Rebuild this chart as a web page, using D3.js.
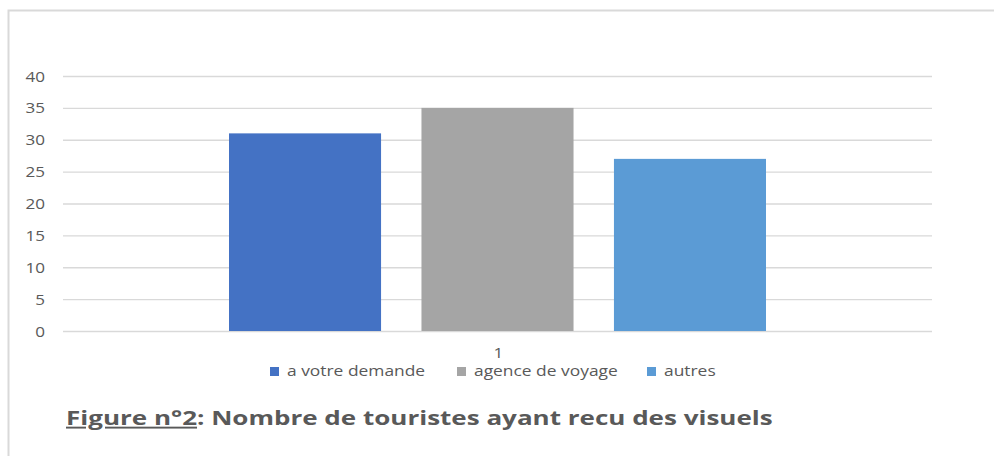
<!DOCTYPE html>
<html>
<head>
<meta charset="utf-8">
<script src="https://cdn.jsdelivr.net/npm/d3@7"></script>
<style>
  body { margin: 0; background: #fff; }
  svg { display: block; }
</style>
</head>
<body>
<div id="chart"></div>
<script>
// data
const categories = ["1"];
const seriesNames = ["a votre demande", "agence de voyage", "autres"];
const seriesValues = [31, 35, 27];
const seriesColors = ["#4472C4", "#A5A5A5", "#5B9BD5"];
const yTicks = [0, 5, 10, 15, 20, 25, 30, 35, 40];
const titleStart = "Figure n°2";
const titleRest = ": Nombre de touristes ayant recu des visuels";

const W = 994, H = 456;
const font = "'Open Sans', 'Noto Sans', sans-serif";
const svg = d3.select("#chart").append("svg")
    .attr("width", W)
    .attr("height", H);

// chart frame
svg.append("path")
    .attr("d", `M8.5,${H} V10.5 H${W}`)
    .attr("fill", "none")
    .attr("stroke", "#D9D9D9")
    .attr("stroke-width", 2);

const plot = {left: 63, right: 932, top: 76, bottom: 331};

let y = d3.scaleLinear().domain([0, 40]).range([plot.bottom, plot.top]);
let x0 = d3.scaleBand().domain(categories).range([plot.left, plot.right]);
let x1 = d3.scaleBand().domain(seriesNames)
    .range([229 - plot.left, 766 - plot.left])
    .paddingInner(0.21);

// gridlines + y labels
let yAxis = svg.append("g")
    .attr("transform", `translate(${plot.left},0)`)
    .call(d3.axisLeft(y).tickValues(yTicks).tickSize(-(plot.right - plot.left)));
yAxis.select(".domain").remove();
yAxis.selectAll(".tick line").attr("stroke", "#D9D9D9").attr("stroke-width", 1.3);
yAxis.selectAll(".tick text")
    .attr("x", 0)
    .attr("dy", "0.36em")
    .attr("transform", "translate(-18,0) scale(1.22,1)")
    .attr("fill", "#595959")
    .style("font-family", font)
    .style("font-size", "14px");

// bars
let groups = svg.selectAll(".cat")
    .data(categories)
    .join("g")
    .attr("class", "cat")
    .attr("transform", d => `translate(${x0(d)},0)`);

groups.selectAll("rect")
    .data(seriesNames.map((n, i) => ({name: n, value: seriesValues[i], color: seriesColors[i]})))
    .join("rect")
    .attr("x", d => x1(d.name))
    .attr("y", d => y(d.value))
    .attr("width", x1.bandwidth())
    .attr("height", d => y(0) - y(d.value))
    .attr("fill", d => d.color);

// category label
svg.append("g")
    .selectAll("text")
    .data(categories)
    .join("text")
    .attr("transform", d => `translate(${x0(d) + x0.bandwidth() / 2 + 1},358) scale(1.22,1)`)
    .attr("text-anchor", "middle")
    .attr("fill", "#595959")
    .style("font-family", font)
    .style("font-size", "14px")
    .text(d => d);

// legend
const legendX = [270, 457, 647];
let legend = svg.append("g")
    .selectAll("g")
    .data(seriesNames)
    .join("g")
    .attr("transform", (d, i) => `translate(${legendX[i]},366)`);
legend.append("rect")
    .attr("y", 1)
    .attr("width", 9).attr("height", 9)
    .attr("fill", (d, i) => seriesColors[i]);
legend.append("text")
    .attr("transform", "translate(17,10) scale(1.2,1)")
    .attr("fill", "#595959")
    .style("font-family", font)
    .style("font-size", "14.5px")
    .text(d => d);

// title below the chart
let title = svg.append("text")
    .attr("transform", "translate(66,425) scale(1.37,1)")
    .attr("fill", "#595959")
    .style("font-family", font)
    .style("font-weight", "bold")
    .style("font-size", "19px");
title.append("tspan").attr("text-decoration", "underline").text(titleStart);
title.append("tspan").text(titleRest);
</script>
</body>
</html>
